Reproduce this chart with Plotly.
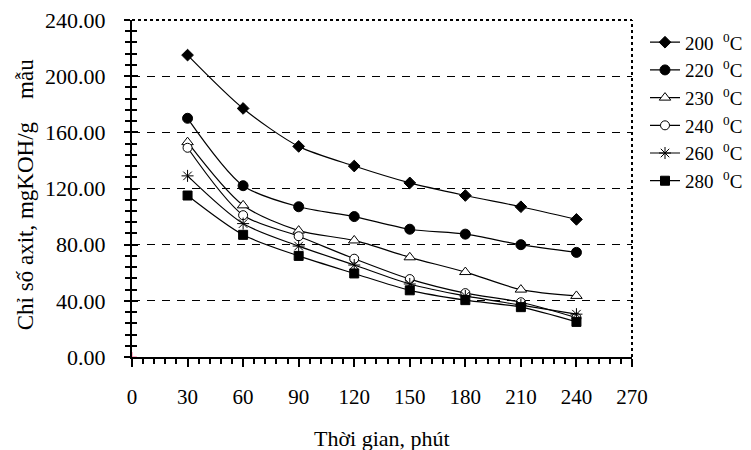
import plotly.graph_objects as go

# Reaction time (minutes)
minutes = [30, 60, 90, 120, 150, 180, 210, 240]

# Acid value (mgKOH/g sample) for each reaction temperature
acid_200 = [215, 177, 150, 136, 124, 115, 107, 98]
acid_220 = [170, 122, 107, 100, 91, 87.5, 80, 74.5]
acid_230 = [153, 108, 90, 83, 71, 60.5, 48, 43.5]
acid_240 = [149, 101, 86, 70, 55.5, 45.5, 39, 28]
acid_260 = [129, 95, 79, 65.5, 52, 43.5, 37, 30.5]
acid_280 = [115, 87, 72, 59.5, 47.5, 40.5, 35.5, 25]

temperatures = ["200", "220", "230", "240", "260", "280"]
series = [acid_200, acid_220, acid_230, acid_240, acid_260, acid_280]

# marker style per temperature: (symbol, size, fill)
styles = [
    ("diamond", 9, "black"),
    ("circle", 10, "black"),
    ("triangle-up", 10, "white"),
    ("circle", 9, "white"),
    ("asterisk-open", 10, "black"),
    ("square", 9, "black"),
]

x_ticks = list(range(0, 271, 30))
y_ticks = list(range(0, 241, 40))

X_TITLE = "Thời gian, phút"
Y_TITLE = "Chỉ số axit, mgKOH/g\u00a0\u00a0\u00a0\u00a0mẫu"

FONT = "Liberation Serif, Times New Roman, serif"

fig = go.Figure()

for temp, vals, (sym, size, fill) in zip(temperatures, series, styles):
    fig.add_trace(go.Scatter(
        x=minutes, y=vals,
        mode="lines+markers",
        name=f"{temp}\u00a0\u00a0<sup>0</sup>C",
        line=dict(color="black", width=1.2, shape="spline", smoothing=0.8),
        marker=dict(symbol=sym, size=size, color=fill,
                    line=dict(color="black", width=1)),
        cliponaxis=False,
    ))

# small stray point at the origin
fig.add_trace(go.Scatter(
    x=[0], y=[0], mode="markers", showlegend=False,
    marker=dict(symbol="cross-thin-open", size=7,
                line=dict(color="#1aa3a3", width=1)),
    cliponaxis=False,
))

fig.update_layout(
    width=751, height=450,
    margin=dict(l=132, r=119, t=20, b=93, autoexpand=False),
    paper_bgcolor="white", plot_bgcolor="white",
    font=dict(family=FONT, size=22, color="black"),
    showlegend=True,
    legend=dict(
        x=1.026, y=0.99, xanchor="left", yanchor="top",
        font=dict(family=FONT, size=19, color="black"),
        bgcolor="rgba(0,0,0,0)", borderwidth=0,
        tracegroupgap=0,
    ),
    xaxis=dict(
        range=[0, 270], tickvals=x_ticks, ticktext=[str(v) for v in x_ticks],
        tickfont=dict(family=FONT, size=21),
        showline=True, linecolor="black", linewidth=2,
        ticks="outside", ticklen=8, tickwidth=2, tickcolor="black",
        minor=dict(ticks="outside", ticklen=5, tickwidth=1.5,
                   tickcolor="black", dtick=6, showgrid=False),
        showgrid=False, zeroline=False,
        ticklabelstandoff=12,
        fixedrange=True,
    ),
    yaxis=dict(
        range=[0, 240], tickvals=y_ticks,
        ticktext=[f"{v:.2f}" for v in y_ticks],
        tickfont=dict(family=FONT, size=22),
        showline=True, linecolor="black", linewidth=2,
        ticks="outside", ticklen=6, tickwidth=2, tickcolor="black",
        minor=dict(ticks="outside", ticklen=5, tickwidth=1.5,
                   tickcolor="black", dtick=8, showgrid=False),
        showgrid=True, gridcolor="black", gridwidth=1, griddash="8px,7px",
        zeroline=False,
        ticklabelstandoff=14,
        fixedrange=True,
    ),
    # companion axis that adds the inner half of the crossing ticks
    yaxis2=dict(
        range=[0, 240], overlaying="y", side="left", tickvals=y_ticks,
        showticklabels=False, showgrid=False, zeroline=False, showline=False,
        ticks="inside", ticklen=6, tickwidth=2, tickcolor="black",
        minor=dict(ticks="inside", ticklen=5, tickwidth=1.5,
                   tickcolor="black", dtick=8, showgrid=False),
        fixedrange=True,
    ),
    annotations=[
        dict(text=X_TITLE, xref="paper", yref="paper", x=0.5, y=-0.243,
             xanchor="center", yanchor="middle", showarrow=False,
             font=dict(family=FONT, size=22, color="black")),
        dict(text=Y_TITLE, xref="paper", yref="paper", x=-0.214, y=0.48,
             xanchor="center", yanchor="middle", showarrow=False,
             textangle=-90,
             font=dict(family=FONT, size=23, color="black")),
    ],
)

# invisible trace so the companion axis is drawn
fig.add_trace(go.Scatter(x=[0], y=[0], yaxis="y2", mode="markers",
                         marker=dict(opacity=0), showlegend=False,
                         hoverinfo="skip"))

# dotted frame along the top and right of the plot area
fig.add_shape(type="line", xref="paper", yref="paper", x0=0, x1=1, y0=1, y1=1,
              line=dict(color="black", width=2, dash="dot"))
fig.add_shape(type="line", xref="paper", yref="paper", x0=1, x1=1, y0=0, y1=1,
              line=dict(color="black", width=2, dash="dot"))

fig.write_html("out.html")
